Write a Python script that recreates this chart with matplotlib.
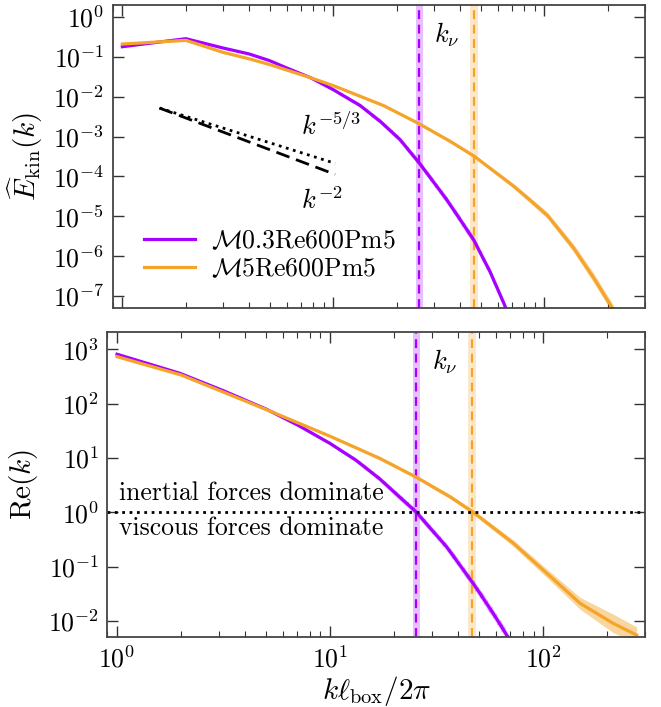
import numpy as np
import matplotlib
matplotlib.use("Agg")
import matplotlib.pyplot as plt
from matplotlib.ticker import NullLocator, LogLocator

plt.rcParams["font.family"] = "serif"
plt.rcParams["font.serif"] = ["cmr10"]
plt.rcParams["mathtext.fontset"] = "cm"
plt.rcParams["axes.formatter.use_mathtext"] = True
plt.rcParams["axes.unicode_minus"] = False

C_LO = "#a800ff"   # M0.3
C_HI = "#f5a42a"   # M5

# ── spectra ────────────────────────────────────────────────
k_ekin_lo = [1, 2, 3, 4, 5, 6, 7.8, 10, 13.4, 16.7, 20.7, 25.5, 34.5, 46.2, 55.5, 64.6, 72]
ekin_lo   = [0.18, 0.286, 0.167, 0.118, 0.080, 0.053, 0.030, 0.015, 6.0e-3, 2.4e-3, 8.4e-4,
             2.2e-4, 2.6e-5, 2.6e-6, 3.9e-7, 6.2e-8, 1.3e-8]
ekin_lo_err = [0.02, 0.02, 0.02, 0.02, 0.02, 0.03, 0.03, 0.04, 0.05, 0.06, 0.07,
               0.08, 0.09, 0.10, 0.10, 0.10, 0.10]   # half width, dex

k_ekin_hi = [1, 2, 3, 4, 5, 7.8, 10, 17.3, 25.5, 35.8, 46.6, 71.6, 85.9, 103.5, 137, 171,
             206, 243]
ekin_hi   = [0.21, 0.26, 0.13, 0.089, 0.064, 0.030, 0.019, 6e-3, 2.1e-3, 7.6e-4, 3.2e-4,
             5.7e-5, 2.5e-5, 1.05e-5, 1.65e-6, 2.9e-7, 5.9e-8, 1.2e-8]
ekin_hi_err = [0.02, 0.02, 0.02, 0.02, 0.02, 0.02, 0.02, 0.03, 0.03, 0.04, 0.04,
               0.06, 0.07, 0.08, 0.10, 0.12, 0.12, 0.12]

k_re_lo = [1, 1.97, 3.15, 5.03, 7.1, 10, 13.2, 17.1, 25.4, 35.2, 46.9, 58.2, 67.3, 75]
re_lo   = [809, 361, 173, 78.5, 39.5, 18.4, 9.1, 4.1, 1.0, 0.23, 0.049, 0.0138, 5.5e-3, 2.5e-3]
re_lo_err = [0.02, 0.02, 0.02, 0.02, 0.03, 0.03, 0.04, 0.05, 0.06, 0.07, 0.08, 0.09,
             0.09, 0.09]

k_re_hi = [1, 2, 3.15, 5, 10, 17.1, 25.4, 36.5, 46.9, 72.3, 104, 149, 213, 274]
re_hi   = [731, 336, 163, 78, 25, 9.8, 4.4, 1.93, 1.0, 0.27, 0.075, 0.021, 9e-3, 5.5e-3]
re_hi_err = [0.02, 0.02, 0.02, 0.02, 0.02, 0.03, 0.03, 0.04, 0.04, 0.06, 0.08, 0.11,
             0.17, 0.15]

# viscous wavenumbers (centre, low, high)
knu_lo = [25.4, 24.6, 26.5]
knu_hi = [46.5, 44.4, 48.5]

# reference power laws
k_pl   = [1.5, 10.2]
pl_amp = 5.2e-3

labels = [r"$\mathcal{M}0.3\mathrm{Re}600\mathrm{Pm}5$",
          r"$\mathcal{M}5\mathrm{Re}600\mathrm{Pm}5$"]


def style(ax):
    ax.set_xscale("log")
    ax.set_yscale("log")
    ax.set_xlim(0.9, 300)
    ax.tick_params(which="both", direction="in", top=True, right=True,
                   labelsize=18.5, color="#333333")
    ax.tick_params(which="major", length=8, width=1.0, pad=6)
    ax.tick_params(which="minor", length=4, width=0.8)
    ax.yaxis.set_major_locator(LogLocator(base=10, numticks=20))
    ax.yaxis.set_minor_locator(NullLocator())
    ax.xaxis.set_minor_locator(LogLocator(base=10, subs=np.arange(2, 10)))
    for s in ax.spines.values():
        s.set_color("#444444")
        s.set_linewidth(1.3)


def band_line(ax, k, v, err, c, hatch=None):
    k = np.array(k); v = np.array(v); e = np.array(err)
    lo = v / 10**e
    hi = v * 10**e
    if hatch:
        ax.fill_between(k, lo, hi, facecolor=c, alpha=0.18, lw=0)
        ax.fill_between(k, lo, hi, facecolor="none", edgecolor=c, alpha=0.3,
                        hatch=hatch, lw=0)
    else:
        ax.fill_between(k, lo, hi, color=c, alpha=0.45, lw=0)
    ax.plot(k, v, color=c, lw=2.3)


def knu_marks(ax):
    for kn, c in [(knu_lo, C_LO), (knu_hi, C_HI)]:
        ax.axvspan(kn[1], kn[2], color=c, alpha=0.25, lw=0)
        ax.axvline(kn[0], color=c, ls="--", lw=1.6, dashes=(4, 2.5))


fig = plt.figure(figsize=(6.61, 7.07), dpi=100)
ax1 = fig.add_axes([0.1705, 0.5648, 0.8053, 0.4281])
ax2 = fig.add_axes([0.1623, 0.0986, 0.8135, 0.4314])

# ── top: kinetic energy spectrum ────────────────────────────
style(ax1)
ax1.set_ylim(5.1e-8, 2)
knu_marks(ax1)
band_line(ax1, k_ekin_lo, ekin_lo, ekin_lo_err, C_LO, hatch="xxx")
band_line(ax1, k_ekin_hi, ekin_hi, ekin_hi_err, C_HI)
ax1.plot([], [], color=C_LO, lw=2.3, label=labels[0])
ax1.plot([], [], color=C_HI, lw=2.3, label=labels[1])

kp = np.array(k_pl)
ax1.plot(kp, pl_amp * (kp / kp[0])**(-5/3), color="k", ls=":", lw=2)
ax1.plot(kp, pl_amp * (kp / kp[0])**(-2), color="k", ls="--", lw=2, dashes=(5, 2.5))
ax1.text(7.0, 1.1e-3, r"$k^{-5/3}$", fontsize=19)
ax1.text(7.0, 1.5e-5, r"$k^{-2}$", fontsize=19)
ax1.text(30, 0.35, r"$k_\nu$", fontsize=19, ha="left", va="center")

ax1.tick_params(axis="x", which="both", labelbottom=False)
ax1.set_ylabel(r"$\widehat{E}_{\rm kin}(k)$", fontsize=21)
ax1.yaxis.set_label_coords(-0.128, 0.5)
h, l = ax1.get_legend_handles_labels()
ax1.legend(h[-2:], l[-2:], loc="lower left", fontsize=18.5, frameon=False,
           handlelength=2.0, handletextpad=0.6, borderaxespad=0.4, labelspacing=0.15,
           bbox_to_anchor=(0.02, 0.02))

# ── bottom: scale-dependent Reynolds number ────────────────
style(ax2)
ax2.set_ylim(5.0e-3, 2050)
knu_marks(ax2)
band_line(ax2, k_re_lo, re_lo, re_lo_err, C_LO, hatch="xxx")
band_line(ax2, k_re_hi, re_hi, re_hi_err, C_HI)
ax2.axhline(1, color="k", ls=":", lw=2)
ax2.text(1.02, 2.26, "inertial forces dominate", fontsize=18.5, va="center")
ax2.text(1.02, 0.51, "viscous forces dominate", fontsize=18.5, va="center")
ax2.text(30, 600, r"$k_\nu$", fontsize=19, ha="left", va="center")

ax2.set_ylabel(r"${\rm Re}(k)$", fontsize=21)
ax2.yaxis.set_label_coords(-0.125, 0.5)
ax2.set_xlabel(r"$k\ell_{\rm box}/2\pi$", fontsize=21)
ax2.xaxis.set_label_coords(0.5, -0.12)

plt.savefig("out.png", dpi=100, facecolor="white")
